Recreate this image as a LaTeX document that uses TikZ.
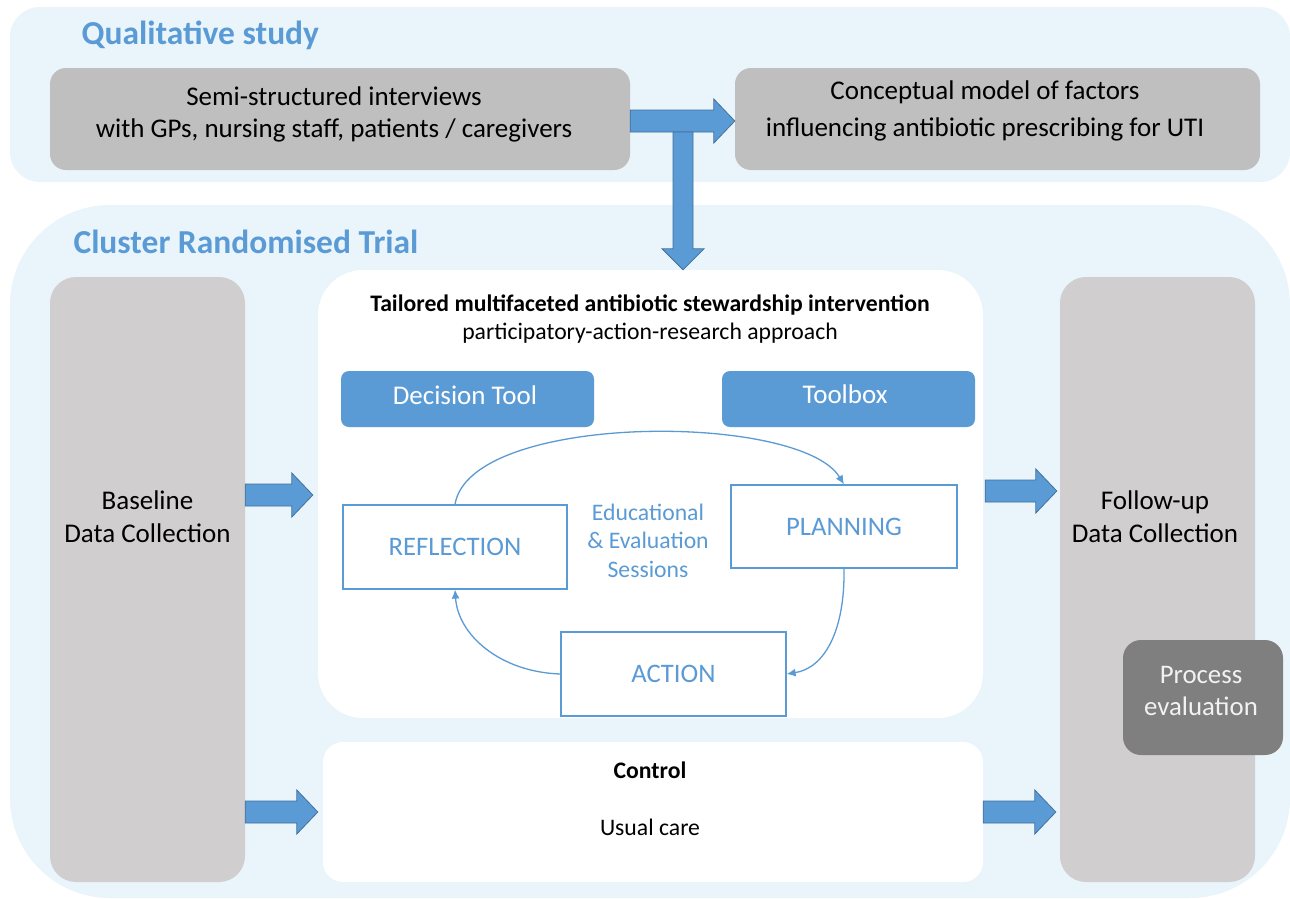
\documentclass[tikz,border=0pt]{standalone}
\usepackage{fontspec}
\setmainfont{Carlito}
\usetikzlibrary{calc,arrows.meta}
\definecolor{panel}{HTML}{EAF4FB}
\definecolor{qgray}{HTML}{BFBFBF}
\definecolor{colgray}{HTML}{D0CECE}
\definecolor{pgray}{HTML}{7F7F7F}
\definecolor{mblue}{HTML}{5B9BD5}
\definecolor{dblue}{HTML}{41719C}
\newcommand\blockH[2]{\filldraw[blockarrow] let \p1=(#1), \p2=(#2) in
  (\x1,\y1+11pt) -- (\x2-21pt,\y1+11pt) -- (\x2-21pt,\y1+22pt) -- (\x2,\y1)
  -- (\x2-21pt,\y1-22pt) -- (\x2-21pt,\y1-11pt) -- (\x1,\y1-11pt) -- cycle;}
\newcommand\blockV[2]{\filldraw[blockarrow] let \p1=(#1), \p2=(#2) in
  (\x1-10pt,\y1) -- (\x1-10pt,\y2+21pt) -- (\x1-21pt,\y2+21pt) -- (\x1,\y2)
  -- (\x1+21pt,\y2+21pt) -- (\x1+10pt,\y2+21pt) -- (\x1+10pt,\y1) -- cycle;}
\begin{document}
\begin{tikzpicture}[x=1pt,y=-1pt,
  blockarrow/.style={fill=mblue,draw=dblue,line width=0.8pt},
  qbox/.style={fill=qgray,rounded corners=16,inner sep=0},
  qtext/.style={align=center,font=\fontsize{27}{32}\selectfont},
  colbox/.style={fill=colgray,rounded corners=26,inner sep=0},
  coltext/.style={align=center,font=\fontsize{27}{33}\selectfont},
  title/.style={anchor=west,text=mblue,font=\bfseries\fontsize{33.5}{38}\selectfont},
  whitebox/.style={fill=white,inner sep=0},
  toolbox/.style={fill=mblue,rounded corners=8,inner sep=0,
    minimum width=253,minimum height=56},
  tooltext/.style={text=white,font=\fontsize{27}{30}\selectfont},
  cycbox/.style={draw=mblue,line width=1.2pt,fill=white,text=mblue,inner sep=0,
    font=\fontsize{26.7}{30}\selectfont},
  cyc/.style={draw=mblue,line width=1.3pt,-{Latex[length=9pt,width=8pt]}},
  txt/.style={font=\fontsize{23.7}{28.5}\selectfont,align=center}]
\fill[white] (0,0) rectangle (1290,898);
\useasboundingbox (0,0) rectangle (1290,898);
% panels
\fill[panel,rounded corners=30] (10,7) rectangle (1290,182);
\fill[panel,rounded corners=100] (10,205) rectangle (1290,898);
\node[title] (qtitle) at (78,35) {Qualitative study};
\node[title] (ctitle) at (70,242) {Cluster Randomised Trial};
% qualitative boxes
\node[qbox,minimum width=580,minimum height=102] (semi) at (340,119) {};
\node[qtext] (semitxt) at (334,114)
  {Semi-structured interviews\\with GPs, nursing staff, patients / caregivers};
\node[qbox,minimum width=525,minimum height=102] (concept) at (997.5,119) {};
\node[qtext,font=\fontsize{27}{37}\selectfont] (concepttxt) at (985,111)
  {Conceptual model of factors\\influencing antibiotic prescribing for UTI};
% columns
\node[colbox,minimum width=195,minimum height=605] (base) at (147.5,579.5) {};
\node[coltext] (basetxt) at (147.5,517) {Baseline\\Data Collection};
\node[colbox,minimum width=195,minimum height=605] (follow) at (1157.5,579.5) {};
\node[coltext] (followtxt) at (1155,517) {Follow-up\\Data Collection};
\node[fill=pgray,rounded corners=18,inner sep=0,minimum width=160,minimum height=115]
  (proc) at (1203,697.5) {};
\node[align=center,text=white!95!black,font=\fontsize{26.8}{32}\selectfont]
  (proctxt) at (1201,690.5) {Process\\evaluation};
% intervention
\node[whitebox,rounded corners=45,minimum width=665,minimum height=448] (interv) at (650.5,494) {};
\node[txt,font=\bfseries\fontsize{23.7}{28}\selectfont] (ititle) at (650,305)
  {Tailored multifaceted antibiotic stewardship intervention};
\node[txt] (isub) at (650,333) {participatory-action-research approach};
\node[toolbox] (dtool) at (467.5,399) {};
\node[tooltext] (dtooltxt) at (465,395) {Decision Tool};
\node[toolbox] (tbox) at (848.5,399) {};
\node[tooltext] (tboxtxt) at (845,394.5) {Toolbox};
\node[cycbox,minimum width=224,minimum height=84] (refl) at (455,547) {REFLECTION};
\node[cycbox,minimum width=226,minimum height=83] (plan) at (844,526.5) {PLANNING};
\node[cycbox,minimum width=225,minimum height=84] (act) at (673.5,674) {ACTION};
\node[txt,text=mblue] (sess) at (648,540.5) {Educational\\\& Evaluation\\Sessions};
\draw[cyc] (refl.north) .. controls (470,412) and (800,412) .. (plan.north);
\draw[cyc] (plan.south) .. controls (845,630) and (825,668) .. (act.east);
\draw[cyc] (act.west) .. controls (500,672) and (458,635) .. (refl.south);
% control
\node[whitebox,rounded corners=20,minimum width=660,minimum height=140] (ctrl) at (653,812) {};
\node[txt,font=\bfseries\fontsize{23.7}{28}\selectfont] (ctitle2) at (650,770) {Control};
\node[txt] (usual) at (650,827) {Usual care};
% block arrows
\blockH{semi.east |- 0,121}{concept.west |- 0,121}
\coordinate (qt) at (683,132);
\blockV{qt}{qt |- interv.north}
\blockH{base.east |- 0,495}{$(interv.west |- 0,495)+(-5,0)$}
\blockH{base.east |- 0,812}{$(ctrl.west |- 0,812)+(-5,0)$}
\blockH{$(interv.east |- 0,491)+(2,0)$}{$(follow.west |- 0,491)+(-3,0)$}
\blockH{ctrl.east |- 0,812}{$(follow.west |- 0,812)+(-4,0)$}
\end{tikzpicture}
\end{document}
